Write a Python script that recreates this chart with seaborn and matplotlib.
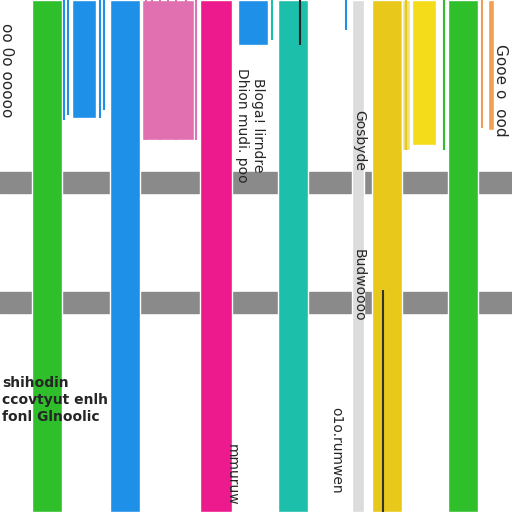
import matplotlib.pyplot as plt
import seaborn as sns

sns.set_theme(style="white")

# main full-height bars: left edge, width, colour
bar_left = [32, 110, 200, 278, 352, 372, 448]
bar_width = [30, 30, 32, 30, 12, 30, 30]
bar_color = ["#2fbf2a", "#1e90e8", "#ec1a8c", "#1bbfaa", "#dcdcdc", "#e8c81a", "#2fbf2a"]

# short bars hanging from the top: left edge, width, bottom, colour
top_left = [72, 142, 238, 412, 402, 488]
top_width = [24, 52, 30, 24, 8, 6]
top_bottom = [118, 140, 45, 145, 150, 130]
top_color = ["#1e90e8", "#e070b0", "#1e90e8", "#f5dc1a", "#f2e27a", "#f0a050"]

# thin lines from the top
line_x = [64, 68, 100, 104, 146, 152, 160, 168, 176, 186, 196, 272, 300, 346, 406, 444, 482]
line_bottom = [120, 115, 118, 110, 140, 138, 140, 135, 140, 138, 140, 40, 45, 30, 150, 150, 128]
line_color = ["#1e90e8"] * 3 + ["#1e90e8"] + ["#e070b0"] * 7 + ["#1bbfaa", "#222222", "#1e90e8", "#e8c81a", "#2fbf2a", "#f0a050"]

# horizontal grey bands: top, height
band_top = [172, 292]
band_height = [21, 21]

fig = plt.figure(figsize=(5.12, 5.12), dpi=100)
ax = fig.add_axes([0, 0, 1, 1])
ax.set_xlim(0, 512)
ax.set_ylim(512, 0)
ax.axis("off")

for t, h in zip(band_top, band_height):
    ax.axhspan(t, t + h, color="#8a8a8a", zorder=1)
ax.bar(bar_left, 512, width=bar_width, align="edge", color=bar_color, zorder=2)
ax.bar(top_left, top_bottom, width=top_width, align="edge", color=top_color, zorder=2)
ax.vlines(line_x, 0, line_bottom, colors=line_color, lw=1.5, zorder=3)
ax.vlines([383], [290], [512], colors="#333333", lw=1.5, zorder=3)

ax.text(2, 400, "shihodin\nccovtyut enlh\nfonl Glnoolic", fontsize=10, fontweight="bold",
        va="center", linespacing=1.3, zorder=4)
ax.text(6, 70, "oo 0o ooooo", rotation=270, fontsize=11, va="center", ha="center", zorder=4)
ax.text(250, 125, "Bloga! lirndre\nDhion mudi. poo", rotation=270, fontsize=10,
        va="center", ha="center", zorder=4)
ax.text(359, 140, "Gosbyde", rotation=270, fontsize=10, va="center", ha="center", zorder=4)
ax.text(359, 285, "Budwoooo", rotation=270, fontsize=10, va="center", ha="center", zorder=4)
ax.text(336, 450, "o1o.rumwen", rotation=270, fontsize=10, va="center", ha="center", zorder=4)
ax.text(232, 475, "mmuruw", rotation=270, fontsize=10, va="center", ha="center", zorder=4)
ax.text(500, 90, "Gooe o  ood", rotation=270, fontsize=11, va="center", ha="center", zorder=4)

fig.savefig("out.png", dpi=100)
